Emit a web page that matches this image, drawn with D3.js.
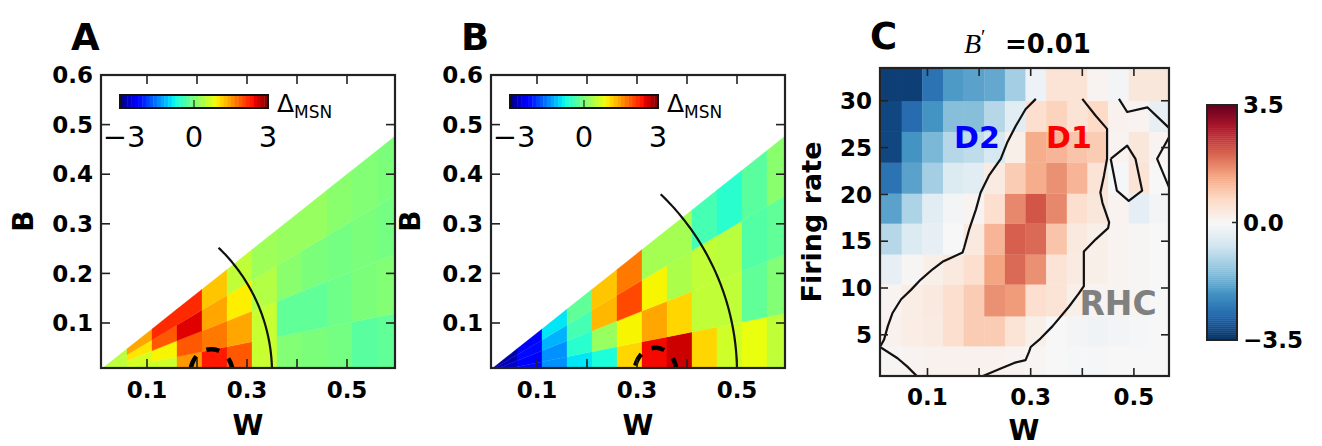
<!DOCTYPE html>
<html>
<head>
<meta charset="utf-8">
<script src="https://cdn.jsdelivr.net/npm/d3@7"></script>
<style>
  body { margin: 0; background: #fff; }
  svg { display: block; font-family: "DejaVu Sans", sans-serif; }
</style>
</head>
<body>
<div id="chart"></div>
<script>
// ---------- data ----------
// panels A, B: cells on a (W, B/W) grid, B = ratio * W
const wEdges = [0.01, 0.06, 0.11, 0.16, 0.21, 0.26, 0.31, 0.36, 0.41, 0.46, 0.51, 0.56, 0.61];
const ratioEdges = [0, 0.2, 0.4, 0.6, 0.8];
// Delta_MSN, one array per W column, from low to high B/W
const deltaA = [
  [0.5, 0.5, 0.5, 0.45],
  [0.6, 0.65, 1.0, 1.4],
  [0.6, 0.9, 1.9, 2.2],
  [1.5, 1.9, 2.5, 2.2],
  [2.3, 1.7, 1.4, 1.2],
  [1.9, 1.4, 0.95, 0.5],
  [0.55, 0.55, 0.4, 0.25],
  [0.05, -0.2, 0.1, 0.2],
  [0.0, -0.2, 0.0, 0.2],
  [-0.05, -0.1, -0.05, 0.1],
  [-0.25, 0.0, 0.0, 0.05],
  [-0.2, 0.05, -0.05, 0.0]
];
const deltaB = [
  [-2.5, -2.6, -2.7, -2.8],
  [-2.2, -2.3, -2.2, -2.3],
  [-1.4, -1.4, -1.2, -0.9],
  [-0.9, -0.6, -0.4, -0.2],
  [-0.7, 0.2, 1.3, 1.2],
  [1.1, 0.9, 2.0, 1.7],
  [2.4, 1.4, 0.9, 0.3],
  [2.6, 1.1, 0.35, 0.3],
  [1.1, 0.5, 0.5, -0.4],
  [0.6, 0.5, 0.45, -0.6],
  [0.8, -0.2, -0.3, -0.25],
  [0.5, 0.05, -0.2, 0.1]
];
const arcRadiusA = 0.35, arcRadiusB = 0.5, arcStartDeg = 46;
// dashed contour near the bottom: [centre W, radius in W, radius in B]
const dashA = [0.229, 0.042, 0.047];
const dashB = [0.337, 0.042, 0.05];
const xTicksAB = [0.1, 0.2, 0.3, 0.4, 0.5];
const xLabelsAB = [0.1, 0.3, 0.5];
const yTicksAB = [0.1, 0.2, 0.3, 0.4, 0.5, 0.6];
const cbTicksAB = [-3, 0, 3];

// panel C: B' = 0.01, Delta per (W, firing rate) cell
const wEdgesC = [0.01, 0.05, 0.09, 0.13, 0.17, 0.21, 0.25, 0.29, 0.33, 0.37, 0.41, 0.45, 0.49, 0.53, 0.57];
const rateEdges = [0.6, 3.8, 7.0, 10.4, 13.6, 16.9, 20.1, 23.4, 26.7, 30.0, 33.5];
// rows from low to high firing rate
const deltaC = [
  [0.05, 0.1, 0.15, 0.15, 0.15, 0.15, 0.1, 0.05, 0.0, -0.05, -0.05, 0.0, 0.0, 0.0],
  [0.15, 0.25, 0.3, 0.6, 0.9, 0.9, 0.5, 0.2, 0.0, -0.1, -0.15, -0.1, -0.05, 0.0],
  [0.1, 0.25, 0.35, 0.6, 0.9, 1.6, 1.5, 0.6, 0.5, 0.2, 0.1, 0.1, 0.05, 0.0],
  [-0.3, 0.05, 0.2, 0.35, 0.6, 1.4, 2.0, 1.6, 0.5, 0.3, 0.2, 0.1, 0.05, 0.0],
  [-1.0, -0.5, -0.3, 0.0, 0.35, 1.2, 2.1, 2.0, 1.0, 0.35, 0.2, 0.1, 0.05, 0.0],
  [-1.9, -1.1, -0.4, -0.1, 0.1, 0.6, 1.7, 2.2, 1.7, 0.6, 0.4, 0.1, -0.35, -0.1],
  [-2.6, -1.9, -1.2, -0.5, -0.4, 0.3, 0.9, 1.3, 1.6, 1.2, 0.5, -0.05, 0.5, 0.0],
  [-3.2, -2.1, -1.6, -1.0, -0.9, -0.6, 0.2, 1.3, 1.2, 1.0, 0.9, 0.1, 0.4, 0.1],
  [-3.2, -2.7, -2.1, -1.5, -1.5, -1.0, -0.4, 0.6, 0.8, 0.5, 0.7, 0.15, 0.1, -0.3],
  [-3.3, -3.3, -2.6, -2.0, -1.9, -1.8, -1.2, -0.2, 0.5, 0.5, 0.1, -0.1, 0.4, 0.4]
];
// contour lines, [W, firing rate]
const contourMain = [[0.310,30.2],[0.290,29.1],[0.271,27.3],[0.255,25.6],[0.242,23.8],[0.219,22.0],
  [0.203,20.2],[0.194,18.4],[0.181,16.3],[0.171,14.3],[0.168,13.8],[0.145,13.2],[0.129,12.8],[0.110,12.0],
  [0.087,10.9],[0.068,9.8],[0.049,8.8],[0.032,7.3],[0.023,5.9],[0.016,4.5],[0.008,3.7],[0.042,2.5],
  [0.061,1.6],[0.081,0.5],[0.203,0.5],[0.242,1.4],[0.268,2.0],[0.290,2.3],[0.297,3.2],[0.300,3.7],
  [0.319,4.6],[0.342,5.9],[0.374,8.0],[0.393,9.4],[0.403,10.2],[0.403,13.9],[0.426,15.2],[0.450,16.4],
  [0.452,17.0],[0.439,19.1],[0.435,20.2],[0.442,22.0],[0.448,23.8],[0.448,27.0],[0.426,28.4],[0.400,30.2]];
const contourZig1 = [[0.471,30.2],[0.487,28.8],[0.526,29.3],[0.570,27.0]];
const contourZig2 = [[0.570,26.3],[0.545,23.8],[0.570,20.5]];
const contourLoop = [[0.455,23.8],[0.487,25.2],[0.503,23.8],[0.516,20.4],[0.490,19.3],[0.467,20.4],[0.455,23.8]];
const xTicksC = [0.1, 0.2, 0.3, 0.4, 0.5];
const xLabelsC = [0.1, 0.3, 0.5];
const yTicksC = [5, 10, 15, 20, 25, 30];
const cbTicksC = [-3.5, 0, 3.5];

// ---------- colour maps ----------
const jetR = d3.scaleLinear([0, 0.35, 0.66, 0.89, 1], [0, 0, 1, 1, 0.5]).clamp(true);
const jetG = d3.scaleLinear([0, 0.125, 0.375, 0.64, 0.91, 1], [0, 0, 1, 1, 0, 0]).clamp(true);
const jetB = d3.scaleLinear([0, 0.11, 0.34, 0.65, 1], [0.5, 1, 1, 0, 0]).clamp(true);
const jetT = d3.scaleLinear([-3, 3], [0, 1]).clamp(true);
const jet = v => { const t = jetT(v); return d3.rgb(255 * jetR(t), 255 * jetG(t), 255 * jetB(t)).toString(); };

const rdbuColors = ["#053061","#2166ac","#4393c3","#92c5de","#d1e5f0","#f7f7f7","#fddbc7","#f4a582","#d6604d","#b2182b","#67001f"];
const rdbu = d3.scaleLinear().domain(d3.range(11).map(i => -3.5 + i * 0.7)).range(rdbuColors).clamp(true);

const fmt1 = d3.format(".1f"), fmtInt = d3.format("d");

const svg = d3.select("#chart").append("svg")
  .attr("width", 1322).attr("height", 446);
const defs = svg.append("defs");

function frameTicks(g, x, y, xTicks, yTicks, tickLen) {
  const [x0, x1] = x.range(), [y0, y1] = y.range();
  g.selectAll(null).data(xTicks).join("line")
    .attr("x1", d => x(d)).attr("x2", d => x(d)).attr("y1", y0).attr("y2", y0 - tickLen);
  g.selectAll(null).data(xTicks).join("line")
    .attr("x1", d => x(d)).attr("x2", d => x(d)).attr("y1", y1).attr("y2", y1 + tickLen);
  g.selectAll(null).data(yTicks).join("line")
    .attr("x1", x0).attr("x2", x0 + tickLen).attr("y1", d => y(d)).attr("y2", d => y(d));
  g.selectAll(null).data(yTicks).join("line")
    .attr("x1", x1).attr("x2", x1 - tickLen).attr("y1", d => y(d)).attr("y2", d => y(d));
  g.selectAll("line").attr("stroke", "#222").attr("stroke-width", 1.6);
  g.append("rect")
    .attr("x", x0).attr("y", y1).attr("width", x1 - x0).attr("height", y0 - y1)
    .attr("fill", "none").attr("stroke", "#222").attr("stroke-width", 2.2);
}

// ---------- panels A and B ----------
function trianglePanel(id, left, values, radius, dash, letter, ylabX) {
  const x = d3.scaleLinear([0.008, 0.596], [left, left + 294]);
  const y = d3.scaleLinear([0.0093, 0.6], [368, 75]);
  defs.append("clipPath").attr("id", "clip" + id)
    .append("rect").attr("x", left).attr("y", 75).attr("width", 294).attr("height", 293);
  const g = svg.append("g");
  const plot = g.append("g").attr("clip-path", `url(#clip${id})`);
  const line = d3.line().x(p => x(p[0])).y(p => y(p[1]));

  const cells = values.flatMap((col, k) => col.map((v, j) => ({ v, k, j })));
  plot.selectAll("path.cell").data(cells).join("path")
    .attr("class", "cell")
    .attr("d", d => {
      const w0 = wEdges[d.k], w1 = wEdges[d.k + 1], r0 = ratioEdges[d.j], r1 = ratioEdges[d.j + 1];
      return line([[w0, r0 * w0], [w1, r0 * w1], [w1, r1 * w1], [w0, r1 * w0]]) + "Z";
    })
    .attr("fill", d => jet(d.v))
    .attr("stroke", d => jet(d.v)).attr("stroke-width", 0.3);

  // solid arc W^2 + B^2 = r^2
  const t0 = arcStartDeg * Math.PI / 180;
  plot.append("path")
    .datum(d3.range(61).map(i => t0 * (1 - i / 60)).map(t => [radius * Math.cos(t), radius * Math.sin(t)]))
    .attr("d", line).attr("fill", "none").attr("stroke", "#111").attr("stroke-width", 2.2);

  // thick dashed contour
  plot.append("path")
    .datum(d3.range(61).map(i => Math.PI * i / 60).map(t => [dash[0] + dash[1] * Math.cos(t), dash[2] * Math.sin(t)]))
    .attr("d", line).attr("fill", "none").attr("stroke", "#000").attr("stroke-width", 4.5)
    .attr("stroke-dasharray", "13,12").attr("stroke-dashoffset", 23);

  frameTicks(g.append("g"), x, y, xTicksAB, yTicksAB, 9);

  g.selectAll("text.xl").data(xLabelsAB).join("text")
    .attr("x", d => x(d)).attr("y", 398).attr("text-anchor", "middle")
    .attr("font-size", 23).attr("font-weight", "bold").text(fmt1);
  g.selectAll("text.yl").data(yTicksAB).join("text")
    .attr("x", left - 8).attr("y", d => y(d)).attr("dy", "0.36em").attr("text-anchor", "end")
    .attr("font-size", 23).attr("font-weight", "bold").text(fmt1);

  g.append("text").attr("x", left + 147).attr("y", 435).attr("text-anchor", "middle")
    .attr("font-size", 28).attr("font-weight", "bold").text("W");
  g.append("text").attr("transform", `translate(${ylabX},221) rotate(-90)`).attr("text-anchor", "middle")
    .attr("font-size", 28).attr("font-weight", "bold").text("B");
  g.append("text").attr("x", left - 30).attr("y", 50)
    .attr("font-size", 37).attr("font-weight", "bold").text(letter);

  // inset colour bar
  const cb = d3.scaleLinear([-3, 3], [left + 19, left + 167]);
  const strips = d3.range(40);
  g.selectAll("rect.cb").data(strips).join("rect")
    .attr("x", i => cb(-3 + 6 * i / 40)).attr("y", 95)
    .attr("width", cb(-3 + 6 / 40) - cb(-3) + 0.4).attr("height", 13)
    .attr("fill", i => jet(-3 + 6 * (i + 0.5) / 40));
  g.append("line").attr("x1", cb(0)).attr("x2", cb(0)).attr("y1", 108).attr("y2", 100)
    .attr("stroke", "#222").attr("stroke-width", 1.2);
  g.append("rect").attr("x", cb(-3)).attr("y", 95).attr("width", cb(3) - cb(-3)).attr("height", 13)
    .attr("fill", "none").attr("stroke", "#111").attr("stroke-width", 2);
  g.selectAll("text.cbl").data(cbTicksAB).join("text")
    .attr("x", d => cb(d) + (d < 0 ? 4 : 0)).attr("y", 147).attr("text-anchor", "middle")
    .attr("font-size", 29).text(fmtInt);
  const dl = g.append("text").attr("x", left + 176).attr("y", 112).attr("font-size", 25);
  dl.append("tspan").text("Δ");
  dl.append("tspan").attr("dy", 6).attr("font-size", 17).text("MSN");
}

trianglePanel("A", 101, deltaA, arcRadiusA, dashA, "A", 33);
trianglePanel("B", 491, deltaB, arcRadiusB, dashB, "B", 420);

// ---------- panel C ----------
{
  const x = d3.scaleLinear([0.008, 0.568], [880, 1169]);
  const y = d3.scaleLinear([0.6, 33.5], [376, 68]);
  defs.append("clipPath").attr("id", "clipC")
    .append("rect").attr("x", 880).attr("y", 68).attr("width", 289).attr("height", 308);
  const g = svg.append("g");
  const plot = g.append("g").attr("clip-path", "url(#clipC)");
  const cells = deltaC.flatMap((row, i) => row.map((v, k) => ({ v, i, k })));
  plot.selectAll("rect.cell").data(cells).join("rect")
    .attr("x", d => x(wEdgesC[d.k])).attr("width", d => x(wEdgesC[d.k + 1]) - x(wEdgesC[d.k]) + 0.3)
    .attr("y", d => y(rateEdges[d.i + 1])).attr("height", d => y(rateEdges[d.i]) - y(rateEdges[d.i + 1]) + 0.3)
    .attr("fill", d => rdbu(d.v));

  const line = d3.line().x(p => x(p[0])).y(p => y(p[1]));
  plot.selectAll("path.contour").data([contourMain, contourZig1, contourZig2, contourLoop]).join("path")
    .attr("d", line).attr("fill", "none").attr("stroke", "#111").attr("stroke-width", 2.2)
    .attr("stroke-linejoin", "round");

  g.append("text").attr("x", 977).attr("y", 148).attr("text-anchor", "middle")
    .attr("font-size", 30).attr("font-weight", "bold").attr("fill", "#0000ff").text("D2");
  g.append("text").attr("x", 1069).attr("y", 148).attr("text-anchor", "middle")
    .attr("font-size", 30).attr("font-weight", "bold").attr("fill", "#ff0000").text("D1");
  g.append("text").attr("x", 1118).attr("y", 315).attr("text-anchor", "middle")
    .attr("font-size", 33).attr("font-weight", "bold").attr("fill", "#808080").text("RHC");

  frameTicks(g.append("g"), x, y, xTicksC, yTicksC, 8);

  g.selectAll("text.xl").data(xLabelsC).join("text")
    .attr("x", d => x(d)).attr("y", 405).attr("text-anchor", "middle")
    .attr("font-size", 23).attr("font-weight", "bold").text(fmt1);
  g.selectAll("text.yl").data(yTicksC).join("text")
    .attr("x", 872).attr("y", d => y(d)).attr("dy", "0.36em").attr("text-anchor", "end")
    .attr("font-size", 23).attr("font-weight", "bold").text(fmtInt);
  g.append("text").attr("x", 1024).attr("y", 440).attr("text-anchor", "middle")
    .attr("font-size", 28).attr("font-weight", "bold").text("W");
  g.append("text").attr("transform", "translate(821,222) rotate(-90)").attr("text-anchor", "middle")
    .attr("font-size", 27).attr("font-weight", "bold").text("Firing rate");
  g.append("text").attr("x", 870).attr("y", 49)
    .attr("font-size", 37).attr("font-weight", "bold").text("C");

  const tl = g.append("text").attr("x", 964).attr("y", 53)
    .attr("font-family", "'Liberation Serif', serif").attr("font-style", "italic").attr("font-size", 28);
  tl.append("tspan").text("B");
  tl.append("tspan").attr("font-style", "normal").attr("font-size", 20).attr("dy", -9).text("′");
  g.append("text").attr("x", 1005).attr("y", 53)
    .attr("font-size", 26).attr("font-weight", "bold").text("=0.01");

  // colour bar
  const cy = d3.scaleLinear([-3.5, 3.5], [340, 105]);
  const n = 120;
  g.selectAll("rect.cb").data(d3.range(n)).join("rect")
    .attr("x", 1207).attr("width", 30)
    .attr("y", i => cy(-3.5 + 7 * (i + 1) / n)).attr("height", cy(-3.5) - cy(-3.5 + 7 / n) + 0.4)
    .attr("fill", i => rdbu(-3.5 + 7 * (i + 0.5) / n));
  g.selectAll("line.cbt").data(cbTicksC).join("line")
    .attr("x1", 1237).attr("x2", 1232).attr("y1", d => cy(d)).attr("y2", d => cy(d))
    .attr("stroke", "#222").attr("stroke-width", 1.5);
  g.append("rect").attr("x", 1207).attr("y", 105).attr("width", 30).attr("height", 235)
    .attr("fill", "none").attr("stroke", "#222").attr("stroke-width", 2);
  g.selectAll("text.cbl").data(cbTicksC).join("text")
    .attr("x", 1243).attr("y", d => cy(d)).attr("dy", "0.36em")
    .attr("font-size", 23).attr("font-weight", "bold").text(fmt1);
}
</script>
</body>
</html>
